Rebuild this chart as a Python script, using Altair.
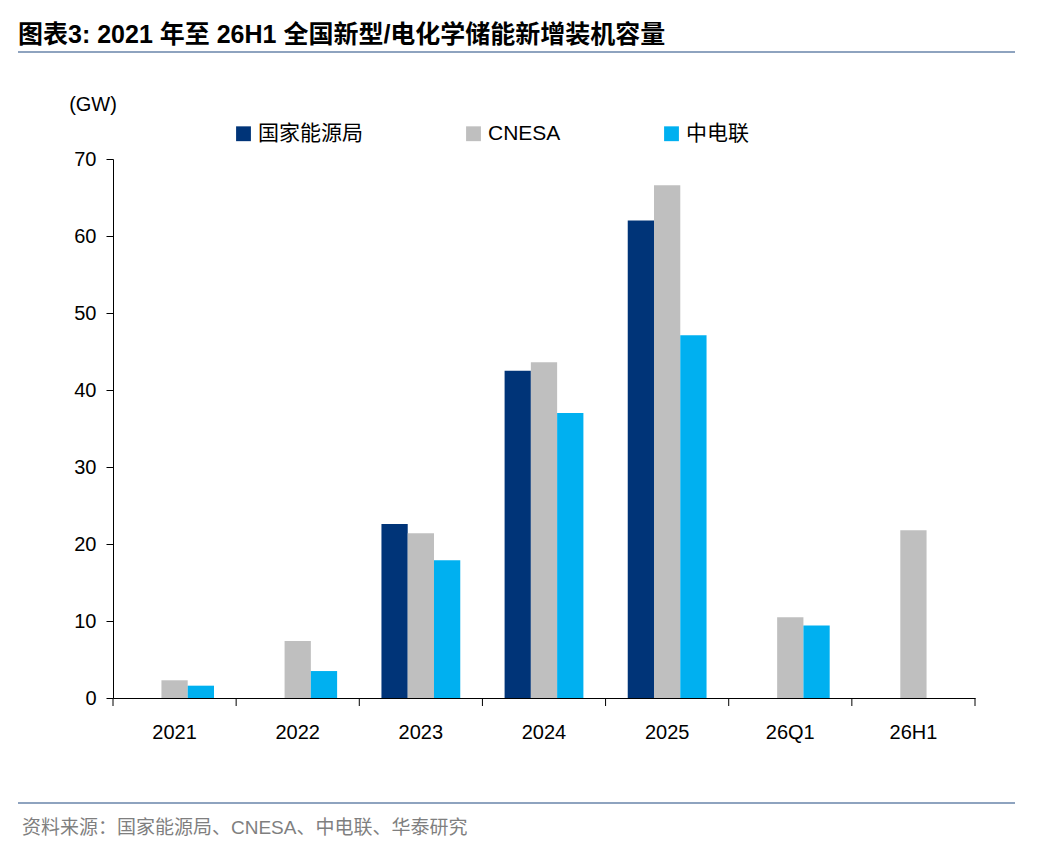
import altair as alt
import pandas as pd

years = ["2021", "2022", "2023", "2024", "2025", "26Q1", "26H1"]
series = ["国家能源局", "CNESA", "中电联"]
nea = [None, None, 22.6, 42.5, 62.0, None, None]
cnesa = [2.3, 7.4, 21.4, 43.6, 66.6, 10.5, 21.8]
cec = [1.6, 3.5, 17.9, 37.0, 47.1, 9.4, None]
colors = ["#003478", "#BFBFBF", "#00B0F0"]

rows = []
for name, vals in zip(series, [nea, cnesa, cec]):
    for y, v in zip(years, vals):
        if v is not None:
            rows.append({"year": y, "series": name, "value": v})
df = pd.DataFrame(rows)

FONT = "Liberation Sans, Noto Sans CJK SC"
W, H = 862, 539

bars = alt.Chart(df).mark_bar().encode(
    x=alt.X("year:N", sort=years, title=None,
            scale=alt.Scale(paddingInner=0.36, paddingOuter=0.18),
            axis=alt.Axis(labelAngle=0, labelFontSize=20, labelColor="black", labelFont=FONT,
                          labelPadding=24, ticks=False,
                          domainColor="black", grid=False)),
    xOffset=alt.XOffset("series:N", sort=series, scale=alt.Scale(paddingInner=0, paddingOuter=0)),
    y=alt.Y("value:Q", title=None, scale=alt.Scale(domain=[0, 70]),
            axis=alt.Axis(values=list(range(0, 71, 10)), labelFontSize=20, labelColor="black",
                          labelFont=FONT, labelPadding=10, tickSize=7, tickColor="black",
                          domainColor="black", grid=False)),
    color=alt.Color("series:N", sort=series, scale=alt.Scale(domain=series, range=colors),
                    legend=alt.Legend(title=None, orient="none", legendX=120, legendY=-36,
                                      direction="horizontal", symbolType="square", symbolSize=220,
                                      labelFontSize=21, labelFont=FONT, labelColor="black",
                                      columnPadding=100, symbolStrokeWidth=0)),
)

def txt(s, x, y, size, weight="normal", color="black", align="left"):
    return alt.Chart(pd.DataFrame({"t": [s]})).mark_text(
        align=align, baseline="middle", fontSize=size, fontWeight=weight, color=color, font=FONT
    ).encode(text="t:N", x=alt.value(x), y=alt.value(y))

def rule(y):
    return alt.Chart(pd.DataFrame({"a": [0]})).mark_rule(color="#8EA3BF", strokeWidth=2).encode(
        x=alt.value(-95), x2=alt.value(902), y=alt.value(y))

def xtick(k):
    return alt.Chart(pd.DataFrame({"a": [0]})).mark_rule(color="black").encode(
        x=alt.value(k * W / 7), y=alt.value(H), y2=alt.value(H + 8))

title = txt("图表3:  2021 年至 26H1 全国新型/电化学储能新增装机容量", -95, -124, 25, "bold")
unit = txt("(GW)", -20, -54, 20, align="center")
source = txt("资料来源：国家能源局、CNESA、中电联、华泰研究", -91, 669, 19, color="#7F7F7F")

chart = alt.layer(bars, title, unit, source, rule(-107), rule(644),
                  *[xtick(k) for k in range(8)]).properties(
    width=W, height=H,
    padding={"left": 105, "top": 151, "right": 65, "bottom": 146},
    autosize=alt.AutoSizeParams(type="none"),
).configure_view(stroke=None)

chart.save("out.html", embed_options={"renderer": "svg", "actions": False})
